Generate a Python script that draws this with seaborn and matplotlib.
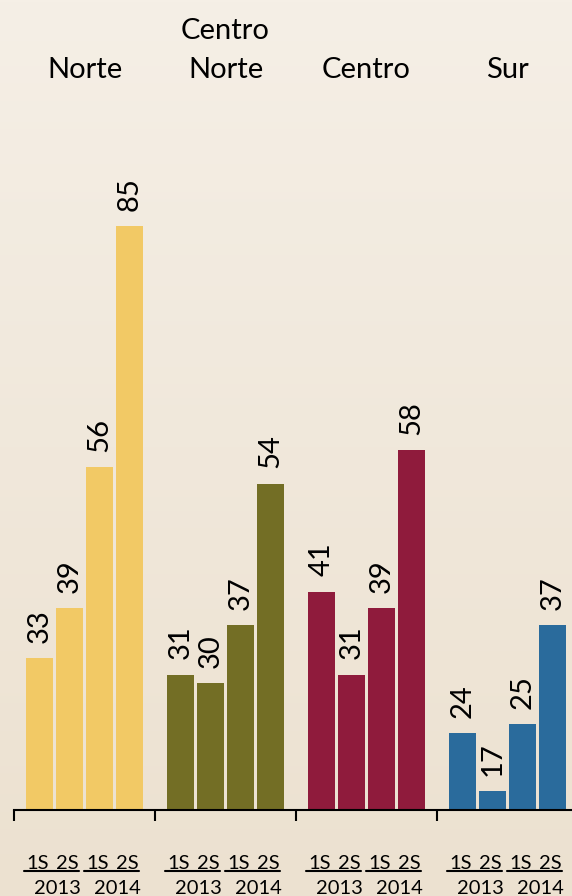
import matplotlib.pyplot as plt
import matplotlib.transforms as mtransforms
from matplotlib.colors import LinearSegmentedColormap
import numpy as np
import pandas as pd
import seaborn as sns

regions = ['Norte', 'Centro\nNorte', 'Centro', 'Sur']
periods = ['2013 1S', '2013 2S', '2014 1S', '2014 2S']
semesters = ['1S', '2S', '1S', '2S']
years = ['2013', '2014']
norte = [33, 39, 56, 85]
centro_norte = [31, 30, 37, 54]
centro = [41, 31, 39, 58]
sur = [24, 17, 25, 37]
colors = ['#F2C965', '#736E25', '#8F1B3C', '#2A6B9C']

values = [norte, centro_norte, centro, sur]
df = pd.DataFrame(
    [(r, p, v) for r, vals in zip(regions, values) for p, v in zip(periods, vals)],
    columns=['region', 'period', 'value'])

sns.set_theme(style='white')
plt.rcParams['font.family'] = ['Lato', 'DejaVu Sans']

fig = plt.figure(figsize=(5.72, 8.96), dpi=100)

# background gradient
bg = fig.add_axes([0, 0, 1, 1], zorder=-10)
grad = np.linspace(0, 1, 256).reshape(-1, 1)
cmap = LinearSegmentedColormap.from_list('bg', ['#F5EFE6', '#ECE1D0'])
bg.imshow(grad, aspect='auto', cmap=cmap, extent=[0, 1, 0, 1], origin='upper')
bg.axis('off')

ax = fig.add_axes([14/572, 86/896, 558/572, 690/896])
ax.patch.set_alpha(0)
sns.barplot(data=df, x='region', y='value', hue='period', order=regions,
            hue_order=periods, width=0.85, gap=0.1, errorbar=None,
            saturation=1, legend=False, ax=ax)

for cont in ax.containers:
    for bar, c in zip(cont, colors):
        bar.set_facecolor(c)
        bar.set_edgecolor('none')
        h = bar.get_height()
        ax.annotate(f'{h:.0f}', (bar.get_x() + bar.get_width()/2, h),
                    xytext=(0, 11), textcoords='offset points', rotation=90,
                    ha='center', va='bottom', fontsize=21, color='black')

ax.set_ylim(14.7, 97.8)
ax.set_xlim(-0.5, 3.457)
ax.set_xticks([-0.5, 0.5, 1.5, 2.5], labels=[])
ax.set_yticks([])
ax.set_xlabel('')
ax.set_ylabel('')
for s in ['top', 'right', 'left']:
    ax.spines[s].set_visible(False)
ax.spines['bottom'].set_color('black')
ax.spines['bottom'].set_linewidth(1.5)
ax.tick_params(axis='x', direction='out', length=8, width=1.5, color='black', bottom=True)

trans = mtransforms.blended_transform_factory(ax.transData, fig.transFigure)

# region titles
for i, r in enumerate(regions):
    ax.text(i, 1 - 78/896, r, transform=trans, ha='center', va='baseline',
            fontsize=21, linespacing=1.6, color='black')

# multi-level category labels
bars_by_group = [[cont[i] for cont in ax.containers] for i in range(len(regions))]
for group in bars_by_group:
    for b, s in zip(group, semesters):
        ax.text(b.get_x() + b.get_width()/2 - 0.015, 27/896, s, transform=trans,
                ha='center', va='baseline', fontsize=14.5, color='black')
    for k, y in enumerate(years):
        b1, b2 = group[2*k], group[2*k + 1]
        x0 = b1.get_x() - 0.014
        x1 = b2.get_x() + b2.get_width() - 0.03
        ax.plot([x0, x1], [25/896, 25/896], transform=trans, color='black',
                lw=1.5, clip_on=False)
        ax.text((b1.get_x() + b2.get_x() + b2.get_width())/2 + 0.02, 2/896, y,
                transform=trans, ha='center', va='baseline', fontsize=14.5,
                color='black')

fig.savefig('out.png', dpi=100)
